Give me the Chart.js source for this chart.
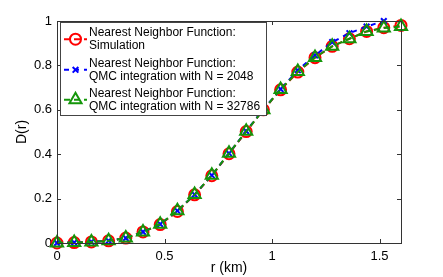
<!DOCTYPE html>
<html><head><meta charset="utf-8">
<script src="https://cdn.jsdelivr.net/npm/chart.js@4/dist/chart.umd.min.js"></script>
<style>html,body{margin:0;padding:0;background:#fff}#w{width:443px;height:277px}</style>
</head><body><div id="w"><canvas id="c"></canvas></div>
<script>
const rValues = [0,0.08,0.16,0.24,0.32,0.40,0.48,0.56,0.64,0.72,0.80,0.88,0.96,1.04,1.12,1.20,1.28,1.36,1.44,1.52,1.60];
const simulation = [0,0.002,0.005,0.01,0.022,0.05,0.083,0.142,0.217,0.303,0.402,0.502,0.600,0.690,0.770,0.835,0.886,0.920,0.953,0.970,0.980];
const qmc2048 = [0,0.002,0.005,0.01,0.022,0.05,0.085,0.145,0.218,0.305,0.404,0.504,0.602,0.693,0.778,0.845,0.905,0.945,0.975,1.0];
const qmc32786 = [0,0.002,0.005,0.01,0.022,0.05,0.085,0.145,0.218,0.305,0.404,0.503,0.600,0.692,0.772,0.836,0.886,0.920,0.953,0.968,0.975];
const xTicks = [0,0.5,1,1.5];
const seriesLabels = [["Nearest Neighbor Function:","Simulation"],["Nearest Neighbor Function:","QMC integration with N = 2048"],["Nearest Neighbor Function:","QMC integration with N = 32786"]];

const pts = (ys) => ys.map((y,i)=>({x:rValues[i],y}));
const RED='#ff0000', BLUE='#0000ff', GREEN='rgb(20,150,10)';
const FONT='"Liberation Sans", Arial, sans-serif';

const boxPlugin = {
  id:'box',
  afterDatasetsDraw(chart){
    const {ctx, chartArea:a, scales:{x,y}} = chart;
    ctx.save();
    ctx.strokeStyle='#333'; ctx.lineWidth=1;
    ctx.strokeRect(Math.round(a.left)+0.5, Math.round(a.top)+0.5, Math.round(a.right-a.left), Math.round(a.bottom-a.top));
    ctx.beginPath();
    xTicks.forEach(v=>{const px=Math.round(x.getPixelForValue(v))+0.5; ctx.moveTo(px,a.bottom); ctx.lineTo(px,a.bottom-4); ctx.moveTo(px,a.top); ctx.lineTo(px,a.top+4);});
    [0,0.2,0.4,0.6,0.8,1].forEach(v=>{const py=Math.round(y.getPixelForValue(v))+0.5; ctx.moveTo(a.left,py); ctx.lineTo(a.left+4,py); ctx.moveTo(a.right,py); ctx.lineTo(a.right-4,py);});
    ctx.stroke();
    // legend
    const lx=60, ly=22, lw=206, lh=93;
    ctx.fillStyle='#fff'; ctx.fillRect(lx,ly,lw,lh);
    ctx.strokeStyle='#444'; ctx.strokeRect(lx+0.5,ly+0.5,lw,lh);
    const ds=[...chart.data.datasets].sort((p,q)=>p.legendIndex-q.legendIndex);
    ctx.font='12px '+FONT; ctx.textBaseline='middle';
    const tops=[32.7,63.3,93.3];
    ds.forEach((d,i)=>{
      const t=tops[i];
      ctx.fillStyle='#000';
      ctx.fillText(seriesLabels[i][0], 89, t);
      ctx.fillText(seriesLabels[i][1], 89, t+13);
      const sy=t+6.5;
      ctx.save();
      ctx.strokeStyle=d.borderColor; ctx.lineWidth=2; ctx.setLineDash(d.borderDash);
      ctx.beginPath(); ctx.moveTo(64,sy); ctx.lineTo(87,sy); ctx.stroke();
      ctx.setLineDash([]);
      ctx.fillStyle='rgba(0,0,0,0)';
      Chart.helpers.drawPoint(ctx,{pointStyle:d.pointStyle,radius:d.pointRadius,borderWidth:2,rotation:0},75.5,sy);
      ctx.restore();
    });
    ctx.restore();
  }
};

const mk = (label, data, color, style, r, dash, order, legendIndex) => ({
  label, data: pts(data), showLine:true, borderColor:color, backgroundColor:'rgba(0,0,0,0)',
  borderWidth:2, borderDash:dash, pointStyle:style, pointRadius:r, pointBorderWidth:2,
  pointBorderColor:color, pointBackgroundColor:'rgba(0,0,0,0)', tension:0, clip:8, order, legendIndex
});

new Chart(document.getElementById('c'), {
  type:'scatter',
  data:{datasets:[
    mk('Simulation', simulation, RED, 'circle', 5.5, [6,4], 2, 0),
    mk('QMC N=2048', qmc2048, BLUE, 'crossRot', 4, [5,5], 1, 1),
    mk('QMC N=32786', qmc32786, GREEN, 'triangle', 7, [6,4], 0, 2)
  ]},
  options:{
    responsive:true, maintainAspectRatio:false, animation:false,
    layout:{padding:{top:21,right:42,left:14,bottom:0}},
    plugins:{legend:{display:false}, tooltip:{enabled:false}},
    scales:{
      x:{type:'linear', min:0, max:1.6,
        afterBuildTicks(s){ s.ticks = xTicks.map(v=>({value:v})); },
        afterFit(s){ s.height = 34; },
        grid:{display:false, drawTicks:false}, border:{display:false},
        ticks:{color:'#000', font:{size:13, family:FONT}, padding:6, maxRotation:0, autoSkip:false, callback:v=>String(v)},
        title:{display:true, text:'r (km)', color:'#000', font:{size:14, family:FONT}, padding:{top:0,bottom:0}}
      },
      y:{type:'linear', min:0, max:1,
        afterFit(s){ s.width = 43; },
        grid:{display:false, drawTicks:false}, border:{display:false},
        ticks:{stepSize:0.2, color:'#000', font:{size:13, family:FONT}, padding:5, callback:v=>String(Math.round(v*10)/10)},
        title:{display:true, text:'D(r)', color:'#000', font:{size:14, family:FONT}, padding:{top:0,bottom:0}}
      }
    }
  },
  plugins:[boxPlugin]
});
</script></body></html>
